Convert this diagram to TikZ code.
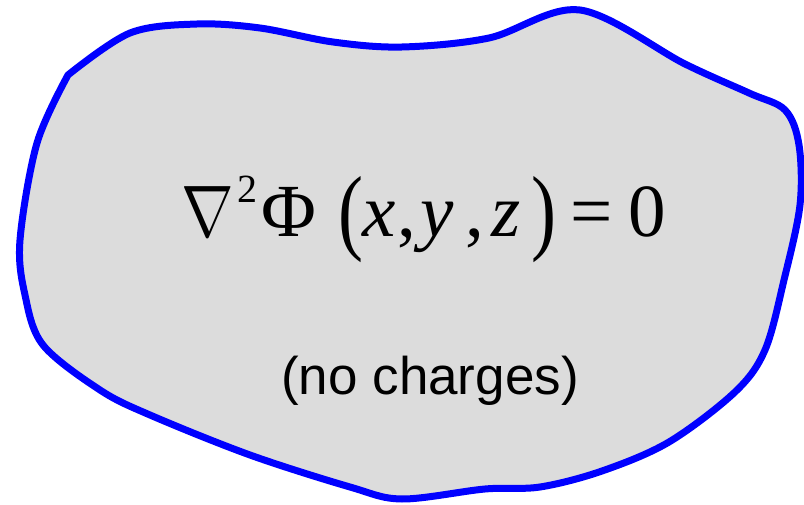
\documentclass[tikz,border=0pt]{standalone}
\usepackage{fontspec}
\usepackage{graphicx}
\setmainfont{Liberation Serif}
\newfontfamily\arialfont{Liberation Sans}
\definecolor{blobfill}{HTML}{DCDCDC}
\definecolor{blobline}{HTML}{0000FF}
\tikzset{
  blob/.style={fill=blobfill, draw=blobline, line width=7pt, line join=round},
  eqpart/.style={font=\fontsize{75}{80}\selectfont, inner sep=0pt, anchor=base west},
  nabpart/.style={font=\fontsize{10}{12}\selectfont, inner sep=0pt, anchor=base west},
  suppart/.style={font=\fontsize{40}{44}\selectfont, inner sep=0pt, anchor=base west},
  subtext/.style={font=\arialfont\fontsize{53}{60}\selectfont, inner sep=0pt, anchor=base}
}
\begin{document}
\begin{tikzpicture}[x=1pt,y=-1pt]
\useasboundingbox (0,0) rectangle (804,505);
\path[blob] plot[smooth, tension=0.55] coordinates {
 (68,75) (130,33) (197,24) (260,28) (333,42) (402,47) (489,38) (580,10)
 (685,64) (749,93) (785,110) (799,145) (800,205) (784,280) (765,350)
 (735,392) (669,442) (602,471) (540,487) (485,489) (402,499) (350,487)
 (250,455) (150,415) (100,390) (43,345) (25,295) (20,240) (37,143) (68,75)} -- cycle;
\node[nabpart] (nab) at (181,237) {\scalebox{6.3}[7.3]{$\nabla$}};
\node[suppart] (two) at (237,203) {2};
\node[eqpart] (phi) at (261,237) {Φ};
\node[eqpart] (lp) at (338,237) {\raisebox{-6pt}{\scalebox{1}[1.27]{(}}};
\node[eqpart] (vx) at (362,237) {\textit{x}};
\node[eqpart] (c1) at (397,237) {,};
\node[eqpart] (vy) at (420,237) {\textit{y}};
\node[eqpart] (c2) at (465,237) {,};
\node[eqpart] (vz) at (491,237) {\textit{z}};
\node[eqpart] (rp) at (531,237) {\raisebox{-6pt}{\scalebox{1}[1.27]{)}}};
\node[eqpart] (eqs) at (570,237) {=};
\node[eqpart] (zero) at (628,237) {0};
\node[subtext] (nc) at (430,394) {(no charges)};
\end{tikzpicture}
\end{document}
